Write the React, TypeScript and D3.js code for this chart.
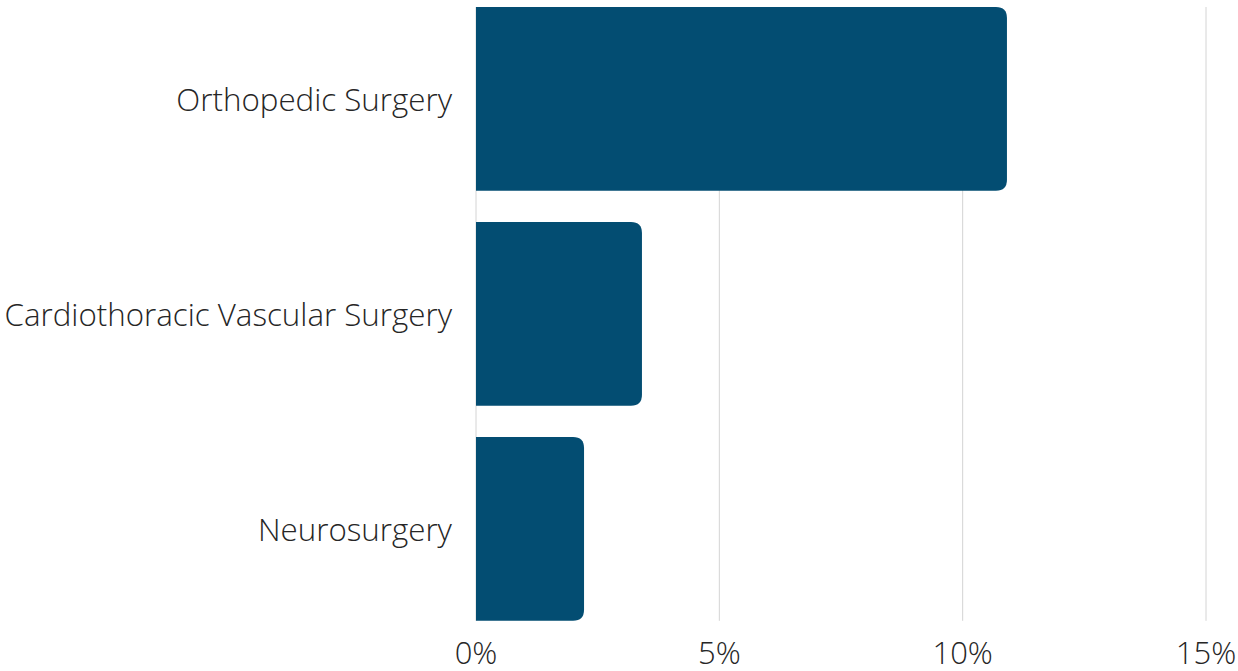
import React from 'react';
import * as d3 from 'd3';

const width = 1238;
const height = 671;
const margin = {top: 7, right: 32, bottom: 51, left: 476};
const barColor = '#034d72';
const gridColor = '#d4d4d4';

const categories = ['Orthopedic Surgery', 'Cardiothoracic Vascular Surgery', 'Neurosurgery'];
const values = [10.91, 3.41, 2.22];
const ticks = [0, 5, 10, 15];

const font = '"Open Sans", sans-serif';

const roundedRight = (x: number, y: number, w: number, h: number, r: number) => {
  const rr = Math.min(r, w, h / 2);
  return `M${x},${y}H${x + w - rr}Q${x + w},${y} ${x + w},${y + rr}` +
    `V${y + h - rr}Q${x + w},${y + h} ${x + w - rr},${y + h}H${x}Z`;
};

const App: React.FC = () => {
  const xScale = d3.scaleLinear()
    .domain([0, 15])
    .range([margin.left, 1206]);

  const step = 215;
  const yScale = d3.scaleBand<string>()
    .domain(categories)
    .range([margin.top - 0.0725 * step, margin.top - 0.0725 * step + step * categories.length])
    .paddingInner(0.145)
    .paddingOuter(0.0725);

  const gridTop = yScale(categories[0]) as number;
  const gridBottom = (yScale(categories[categories.length - 1]) as number) + yScale.bandwidth();

  return (
    <svg width={width} height={height} style={{position: 'absolute', left: 0, top: 0}}>
      <g>
        {ticks.map(t => (
          <line key={t} x1={xScale(t)} x2={xScale(t)} y1={gridTop} y2={gridBottom}
            stroke={gridColor} strokeWidth={1} />
        ))}
      </g>
      <g>
        {categories.map((c, i) => (
          <path key={c}
            d={roundedRight(xScale(0), yScale(c) as number, xScale(values[i]) - xScale(0), yScale.bandwidth(), 11)}
            fill={barColor} />
        ))}
      </g>
      <g>
        {categories.map(c => (
          <text key={c} x={xScale(0) - 24} y={(yScale(c) as number) + yScale.bandwidth() / 2}
            textAnchor="end" dominantBaseline="central" fontFamily={font} fontWeight={300}
            fontSize={31.3} fill="#262626">{c}</text>
        ))}
      </g>
      <g>
        {ticks.map(t => (
          <text key={t} x={xScale(t)} y={664} textAnchor="middle" fontFamily={font}
            fontWeight={300} fontSize={31} fill="#262626">{`${t}%`}</text>
        ))}
      </g>
    </svg>
  );
};

export default App;
